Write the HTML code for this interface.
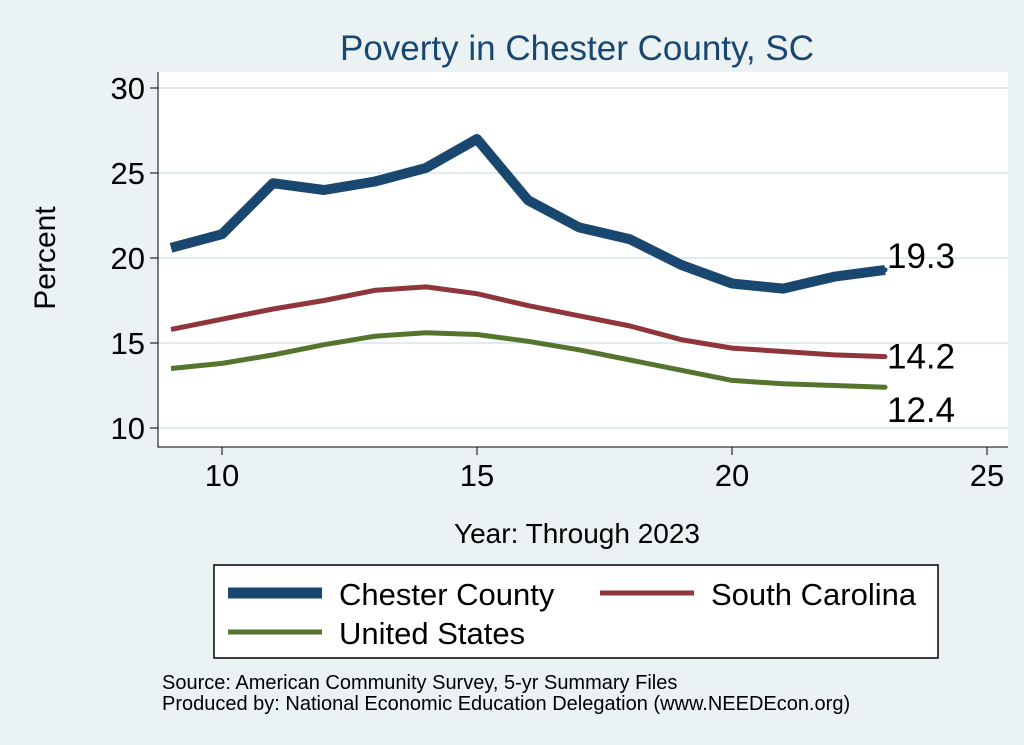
<!DOCTYPE html>
<html><head><meta charset="utf-8"><style>
body{margin:0;background:#eaf2f3;}
svg{display:block;font-family:"Liberation Sans",sans-serif;}
</style></head><body>
<svg id="chart" width="1024" height="745">
<rect x="0" y="0" width="1024" height="745" fill="#eaf2f3"/>
<rect x="158" y="72" width="850" height="375" fill="#fff"/>
<text x="577" y="60" font-size="35" fill="#1a476f" text-anchor="middle">Poverty in Chester County, SC</text>
<g id="grid"></g><g id="axes"></g><g id="series"></g>
<text x="55" y="258" font-size="30" text-anchor="middle" transform="rotate(-90 55 258)">Percent</text>
<text x="577" y="543" font-size="28" text-anchor="middle">Year: Through 2023</text>
<g>
<rect x="214" y="565" width="724" height="93" fill="#fff" stroke="#000" stroke-width="1.5"/>
<line x1="228" y1="593" x2="322" y2="593" stroke="#1a476f" stroke-width="11"/>
<text x="339" y="605" font-size="31">Chester County</text>
<line x1="600" y1="593" x2="694" y2="593" stroke="#90353b" stroke-width="5"/>
<text x="711" y="605" font-size="31">South Carolina</text>
<line x1="228" y1="632" x2="322" y2="632" stroke="#55752f" stroke-width="5"/>
<text x="339" y="644" font-size="31">United States</text>
</g>
<text x="162" y="689" font-size="20">Source: American Community Survey, 5-yr Summary Files</text>
<text x="162" y="710" font-size="20">Produced by: National Economic Education Delegation (www.NEEDEcon.org)</text>
</svg>
<script>
const years=[9,10,11,12,13,14,15,16,17,18,19,20,21,22,23];
const chester=[20.6,21.4,24.4,24.0,24.5,25.3,27.0,23.4,21.8,21.1,19.6,18.5,18.2,18.9,19.3];
const southCarolina=[15.8,16.4,17.0,17.5,18.1,18.3,17.9,17.2,16.6,16.0,15.2,14.7,14.5,14.3,14.2];
const unitedStates=[13.5,13.8,14.3,14.9,15.4,15.6,15.5,15.1,14.6,14.0,13.4,12.8,12.6,12.5,12.4];
const yTicks=[10,15,20,25,30];
const xTicks=[10,15,20,25];
const NS="http://www.w3.org/2000/svg";
const xs=v=>222+(v-10)*51;
const ys=v=>428-(v-10)*17;
function mk(tag,attrs,parent){const e=document.createElementNS(NS,tag);for(const k in attrs)e.setAttribute(k,attrs[k]);document.getElementById(parent).appendChild(e);return e;}
yTicks.forEach(t=>{
 const g=mk('line',{x1:158,x2:1008,y1:ys(t),y2:ys(t),stroke:'#e2ecee','stroke-width':2},'grid');
 
 
 const tk=mk('line',{x1:150,x2:158,y1:ys(t),y2:ys(t),stroke:'#000','stroke-width':1},'axes');
 
 
 const lb=mk('text',{x:145,y:ys(t)+11,'font-size':31,'text-anchor':'end'},'axes');
 lb.textContent=t;
 
 
});
xTicks.forEach(t=>{
 const tk=mk('line',{x1:xs(t),x2:xs(t),y1:447,y2:455,stroke:'#000','stroke-width':1},'axes');
 
 
 const lb=mk('text',{x:xs(t),y:486,'font-size':31,'text-anchor':'middle'},'axes');
 lb.textContent=t;
 
 
});
const ax=mk('path',{d:'M158 72 V447 H1008',fill:'none',stroke:'#000','stroke-width':1},'axes');


function line(vals,color,w,name,lx,ly){
 const d=vals.map((v,i)=>(i?'L':'M')+xs(years[i])+' '+ys(v)).join(' ');
 const p=mk('path',{d:d,fill:'none',stroke:color,'stroke-width':w,'stroke-linejoin':'round'},'series');
 
 
 const last=vals[vals.length-1];
 const c=mk('circle',{cx:xs(years[years.length-1]),cy:ys(last),r:2.5,fill:color},'series');
 
 
 const t=mk('text',{x:xs(years[years.length-1])+lx,y:ys(last)+ly,'font-size':35},'series');
 t.textContent=last.toFixed(1);
 
 
}
line(chester,'#1a476f',10,'chester-county',2,-2);
line(southCarolina,'#90353b',5,'south-carolina',2,12);
line(unitedStates,'#55752f',5,'united-states',2,35);
</script>
</body></html>
